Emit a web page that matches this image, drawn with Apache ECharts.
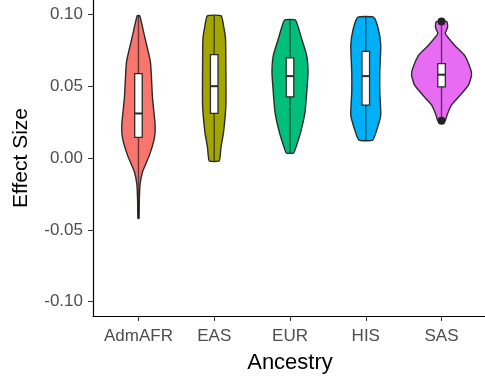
<!DOCTYPE html>
<html>
<head>
<meta charset="utf-8">
<script src="https://cdn.jsdelivr.net/npm/echarts@6/dist/echarts.min.js"></script>
<style>
  html, body { margin: 0; padding: 0; background: #fff; }
  #chart { width: 485px; height: 385px; }
</style>
</head>
<body>
<div id="chart"></div>
<script>
const categories = ['AdmAFR', 'EAS', 'EUR', 'HIS', 'SAS']
const colors = ['#F8766D', '#A3A500', '#00BF7D', '#00B0F6', '#E76BF3']
const yTicks = [-0.10, -0.05, 0.00, 0.05, 0.10]

// violin outlines: [effect size, half width in category units], top to bottom
const violinAdmAFR = [[0.099, 0.017], [0.083, 0.088], [0.067, 0.158], [0.0556, 0.172], [0.042, 0.185], [0.023, 0.22], [0.014, 0.211], [0.002, 0.145], [-0.0097, 0.053], [-0.019, 0.02], [-0.03, 0.011], [-0.042, 0.007]]
const violinEAS = [[0.099, 0.092], [0.092, 0.123], [0.083, 0.149], [0.060, 0.154], [0.037, 0.154], [0.018, 0.123], [0.007, 0.088], [-0.002, 0.066]]
const violinEUR = [[0.096, 0.073], [0.083, 0.154], [0.0715, 0.22], [0.060, 0.238], [0.048, 0.224], [0.032, 0.198], [0.018, 0.141], [0.009, 0.088], [0.0035, 0.049]]
const violinHIS = [[0.098, 0.106], [0.090, 0.165], [0.0785, 0.198], [0.060, 0.185], [0.046, 0.185], [0.030, 0.198], [0.021, 0.154], [0.0125, 0.092]]
const violinSAS = [[0.095, 0.07], [0.091, 0.08], [0.0866, 0.049], [0.0785, 0.172], [0.0715, 0.304], [0.062, 0.383], [0.0576, 0.396], [0.0507, 0.356], [0.044, 0.251], [0.037, 0.132], [0.030, 0.073], [0.026, 0.05]]
const violins = [violinAdmAFR, violinEAS, violinEUR, violinHIS, violinSAS]

// boxplot stats
const whiskerLow = [-0.042, -0.002, 0.0035, 0.0125, 0.026]
const boxLow = [0.0144, 0.031, 0.0426, 0.0368, 0.0495]
const boxMedian = [0.031, 0.050, 0.057, 0.057, 0.058]
const boxHigh = [0.0588, 0.072, 0.0697, 0.0743, 0.0657]
const whiskerHigh = [0.099, 0.099, 0.096, 0.098, 0.095]
const outliers = [[], [], [], [], [0.095, 0.026]]

const chart = echarts.init(document.getElementById('chart'))

const renderViolin = (params, api) => {
  const i = params.dataIndex
  const x = i + 1
  const prof = violins[i]
  const pts = []
  prof.forEach(p => pts.push(api.coord([x + p[1], p[0]])))
  prof.slice().reverse().forEach(p => pts.push(api.coord([x - p[1], p[0]])))
  const bw = 0.05
  const tl = api.coord([x - bw, boxHigh[i]])
  const br = api.coord([x + bw, boxLow[i]])
  const mL = api.coord([x - bw, boxMedian[i]])
  const mR = api.coord([x + bw, boxMedian[i]])
  const wT = api.coord([x, whiskerHigh[i]])
  const wB = api.coord([x, whiskerLow[i]])
  const children = [
    {
      type: 'polygon',
      shape: { points: pts, smooth: 0.15 },
      style: { fill: colors[i], stroke: '#2b2b2b', lineWidth: 1.4 },
    },
    {
      type: 'line',
      shape: { x1: wT[0], y1: wT[1], x2: wB[0], y2: wB[1] },
      style: { stroke: 'rgba(20,20,20,0.65)', lineWidth: 1.4 },
    },
    {
      type: 'rect',
      shape: { x: tl[0], y: tl[1], width: br[0] - tl[0], height: br[1] - tl[1] },
      style: { fill: '#fff', stroke: '#2b2b2b', lineWidth: 1.3 },
    },
    {
      type: 'line',
      shape: { x1: mL[0], y1: mL[1], x2: mR[0], y2: mR[1] },
      style: { stroke: '#2b2b2b', lineWidth: 2 },
    },
  ]
  outliers[i].forEach(v => {
    const c = api.coord([x, v])
    children.push({
      type: 'circle',
      shape: { cx: c[0], cy: c[1], r: 4 },
      style: { fill: '#222' },
    })
  })
  return { type: 'group', children }
}

const options = {
  backgroundColor: '#fff',
  animation: false,
  textStyle: { fontFamily: 'Liberation Sans, Arial, sans-serif' },
  grid: { left: 93, top: 0, width: 394, height: 316, outerBoundsMode: 'none', containLabel: false },
  xAxis: {
    type: 'value',
    min: 0.4,
    max: 5.6,
    name: 'Ancestry',
    nameLocation: 'middle',
    nameGap: 36,
    nameTextStyle: { color: '#000', fontSize: 22 },
    splitLine: { show: false },
    axisLine: { onZero: false, lineStyle: { color: '#000', width: 1.2 } },
    axisTick: { customValues: [1, 2, 3, 4, 5], length: 5, lineStyle: { color: '#333' } },
    axisLabel: {
      customValues: [1, 2, 3, 4, 5],
      formatter: v => categories[Math.round(v) - 1],
      color: '#4D4D4D',
      fontSize: 17,
      margin: 12,
    },
  },
  yAxis: {
    type: 'value',
    min: -0.11,
    max: 0.11,
    name: 'Effect Size',
    nameLocation: 'middle',
    nameGap: 61,
    nameRotate: 90,
    nameTextStyle: { color: '#000', fontSize: 21 },
    splitLine: { show: false },
    axisLine: { show: true, onZero: false, lineStyle: { color: '#000', width: 1.2 } },
    axisTick: { show: true, customValues: yTicks, length: 5, lineStyle: { color: '#333' } },
    axisLabel: {
      customValues: yTicks,
      formatter: v => v.toFixed(2),
      color: '#4D4D4D',
      fontSize: 17,
      margin: 10,
    },
  },
  series: [{
    type: 'custom',
    renderItem: renderViolin,
    data: categories.map((c, i) => [i + 1, boxMedian[i]]),
    clip: false,
  }],
}

chart.setOption(options)
</script>
</body>
</html>
